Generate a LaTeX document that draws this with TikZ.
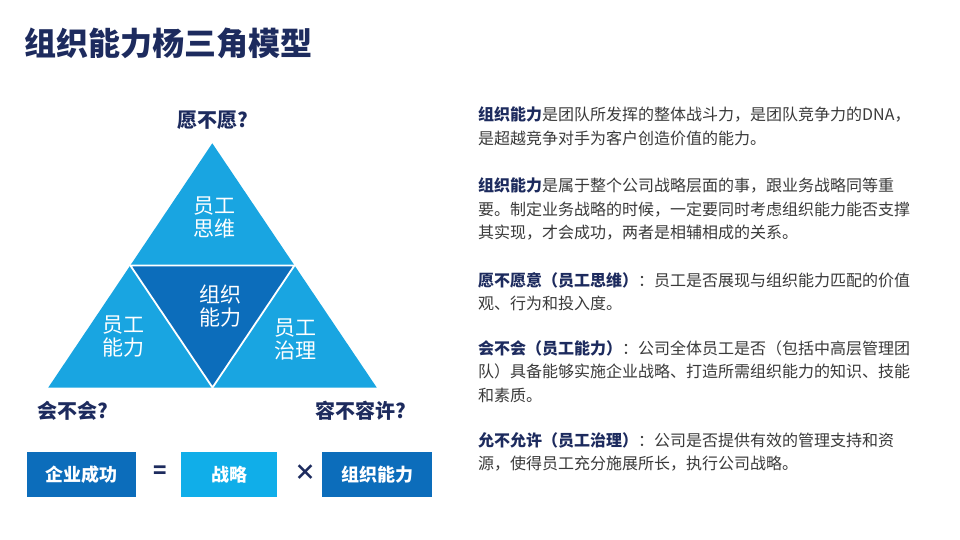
\documentclass[tikz,border=0pt]{standalone}
\usepackage{fontspec}
\setmainfont{Noto Sans CJK SC}
\definecolor{lightb}{HTML}{19A5E1}
\definecolor{darkb}{HTML}{0C6DBB}
\definecolor{navy}{HTML}{1D2B5E}
\definecolor{body}{HTML}{3A3A3A}
\definecolor{boxlight}{HTML}{10AEE9}
\tikzset{
  tritext/.style={text=white, align=center, font=\fontsize{21}{23}\selectfont, inner sep=0pt},
  qlabel/.style={text=navy, font=\bfseries\fontsize{20}{24}\selectfont, inner sep=0pt},
  eqbox/.style={minimum width=110pt, minimum height=45pt, text=white, font=\bfseries\fontsize{18}{20}\selectfont, inner sep=0pt},
  oper/.style={text=navy, font=\bfseries\fontsize{22}{24}\selectfont, inner sep=0pt},
  para/.style={anchor=north west, align=left, inner sep=0pt, text=body, font=\fontsize{16}{23.5}\selectfont}
}
\newcommand{\hb}[1]{{\bfseries\color{navy}#1}}
\begin{document}
\begin{tikzpicture}[x=1pt,y=-1pt]
\useasboundingbox (0,0) rectangle (960,540);
\fill[white] (0,0) rectangle (960,540);
% title
\node[anchor=west, inner sep=0pt, text=navy, font=\bfseries\fontsize{32}{34}\selectfont] (title) at (24,43) {组织能力杨三角模型};
% triangle
\coordinate (A) at (212.3,143.3);
\coordinate (B) at (48.3,387.5);
\coordinate (C) at (376.7,387.5);
\coordinate (AB) at (130.3,265.4);
\coordinate (AC) at (294.5,265.4);
\coordinate (BC) at (212.5,387.5);
\fill[lightb] (A) -- (B) -- (C) -- cycle;
\filldraw[fill=darkb, draw=white, line width=1.8pt, line join=miter] (AB) -- (AC) -- (BC) -- cycle;
\node[tritext] (t1) at (214,218) {员工\\思维};
\node[tritext] (t2) at (220,306) {组织\\能力};
\node[tritext] (t3) at (123,337) {员工\\能力};
\node[tritext] (t4) at (295,340) {员工\\治理};
\node[qlabel] (q1) at (213,120) {愿不愿?};
\node[qlabel] (q2) at (73,411) {会不会?};
\node[qlabel] (q3) at (361,411) {容不容许?};
% equation
\node[eqbox, fill=darkb, minimum width=109pt] (e1) at (81.5,474.5) {企业成功};
\node[oper] (eq) at (160,472) {=};
\node[eqbox, fill=boxlight, minimum width=96pt] (e2) at (229,474.5) {战略};
\node[oper] (times) at (305,473) {×};
\node[eqbox, fill=darkb, minimum width=110pt] (e3) at (377,474.5) {组织能力};
% paragraphs
\node[para] (p1) at (478,107) {\hb{组织能力}是团队所发挥的整体战斗力，是团队竞争力的DNA，\\是超越竞争对手为客户创造价值的能力。};
\node[para] (p2) at (478,178) {\hb{组织能力}是属于整个公司战略层面的事，跟业务战略同等重\\要。制定业务战略的时候，一定要同时考虑组织能力能否支撑\\其实现，才会成功，两者是相辅相成的关系。};
\node[para] (p3) at (478,272) {\hb{愿不愿意（员工思维）}：员工是否展现与组织能力匹配的价值\\观、行为和投入度。};
\node[para] (p4) at (478,340) {\hb{会不会（员工能力）}：公司全体员工是否（包括中高层管理团\\队）具备能够实施企业战略、打造所需组织能力的知识、技能\\和素质。};
\node[para] (p5) at (478,432) {\hb{允不允许（员工治理）}：公司是否提供有效的管理支持和资\\源，使得员工充分施展所长，执行公司战略。};
\end{tikzpicture}
\end{document}
